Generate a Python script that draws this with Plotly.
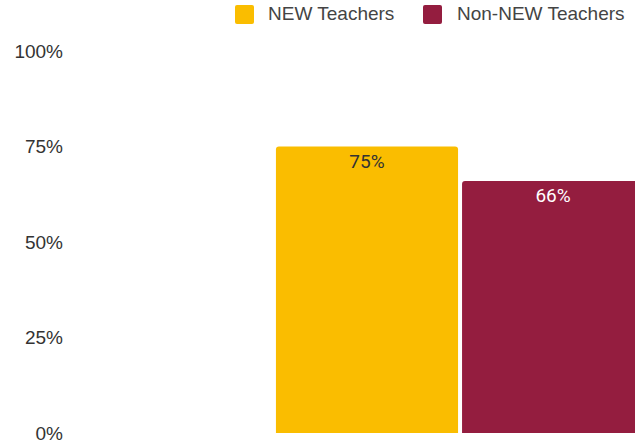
import plotly.graph_objects as go

# Survey results: share of teachers per group
groups = ["NEW Teachers", "Non-NEW Teachers"]
values = [75, 66]
value_labels = ["75%", "66%"]
colors = ["#FABD00", "#941D3F"]
label_colors = ["#333333", "#FFFFFF"]
y_ticks = [0, 25, 50, 75, 100]
y_tick_labels = ["0%", "25%", "50%", "75%", "100%"]
category = [""]

W, H = 635, 442
M_L, M_R, M_T, M_B = 72, 0, 51, 9

fig = go.Figure()
for name, val, lab, col, lcol in zip(groups, values, value_labels, colors, label_colors):
    fig.add_trace(go.Bar(
        x=category, y=[val], name=name,
        marker=dict(color=col, line=dict(width=0), cornerradius=3),
        text=[lab], textposition="inside", insidetextanchor="end",
        textangle=0,
        textfont=dict(family="Roboto", size=19, color=lcol),
        showlegend=False, hoverinfo="skip",
    ))

fig.update_layout(
    width=W, height=H,
    margin=dict(l=M_L, r=M_R, t=M_T, b=M_B, pad=0, autoexpand=False),
    paper_bgcolor="white", plot_bgcolor="white",
    barmode="group", bargap=0.2, bargroupgap=0.0215,
    font=dict(family="Arial", color="#444444"),
    xaxis=dict(range=[-0.834, 0.376], showticklabels=False, showgrid=False,
               zeroline=False, showline=False, automargin=False),
    yaxis=dict(range=[0, 100], tickvals=y_ticks, ticktext=y_tick_labels,
               showgrid=False, zeroline=False, showline=False, automargin=False,
               tickfont=dict(family="Arial", size=19, color="#333333"),
               ticklabelstandoff=8, ticklabeloverflow="allow"),
    uniformtext=dict(mode=False),
)

# Legend drawn as swatches plus labels across the top
plot_w = W - M_L - M_R
plot_h = H - M_T - M_B


def px_x(p):
    return (p - M_L) / plot_w


def px_y(p):
    return (H - M_B - p) / plot_h


legend_items = [(groups[0], colors[0], 235, 268), (groups[1], colors[1], 423, 457)]
for name, col, sx, tx in legend_items:
    fig.add_shape(type="path", xref="paper", yref="paper",
                  path=(f"M {px_x(sx + 2)} {px_y(5)} L {px_x(sx + 17)} {px_y(5)} "
                        f"Q {px_x(sx + 19)} {px_y(5)} {px_x(sx + 19)} {px_y(7)} "
                        f"L {px_x(sx + 19)} {px_y(22)} "
                        f"Q {px_x(sx + 19)} {px_y(24)} {px_x(sx + 17)} {px_y(24)} "
                        f"L {px_x(sx + 2)} {px_y(24)} "
                        f"Q {px_x(sx)} {px_y(24)} {px_x(sx)} {px_y(22)} "
                        f"L {px_x(sx)} {px_y(7)} "
                        f"Q {px_x(sx)} {px_y(5)} {px_x(sx + 2)} {px_y(5)} Z"),
                  fillcolor=col, line=dict(width=0), layer="above")
    fig.add_annotation(xref="paper", yref="paper", x=px_x(tx), y=px_y(14),
                       text=name, showarrow=False, xanchor="left", yanchor="middle",
                       xshift=-2,
                       font=dict(family="Arial", size=19, color="#444444"))

fig.write_html("out.html")
